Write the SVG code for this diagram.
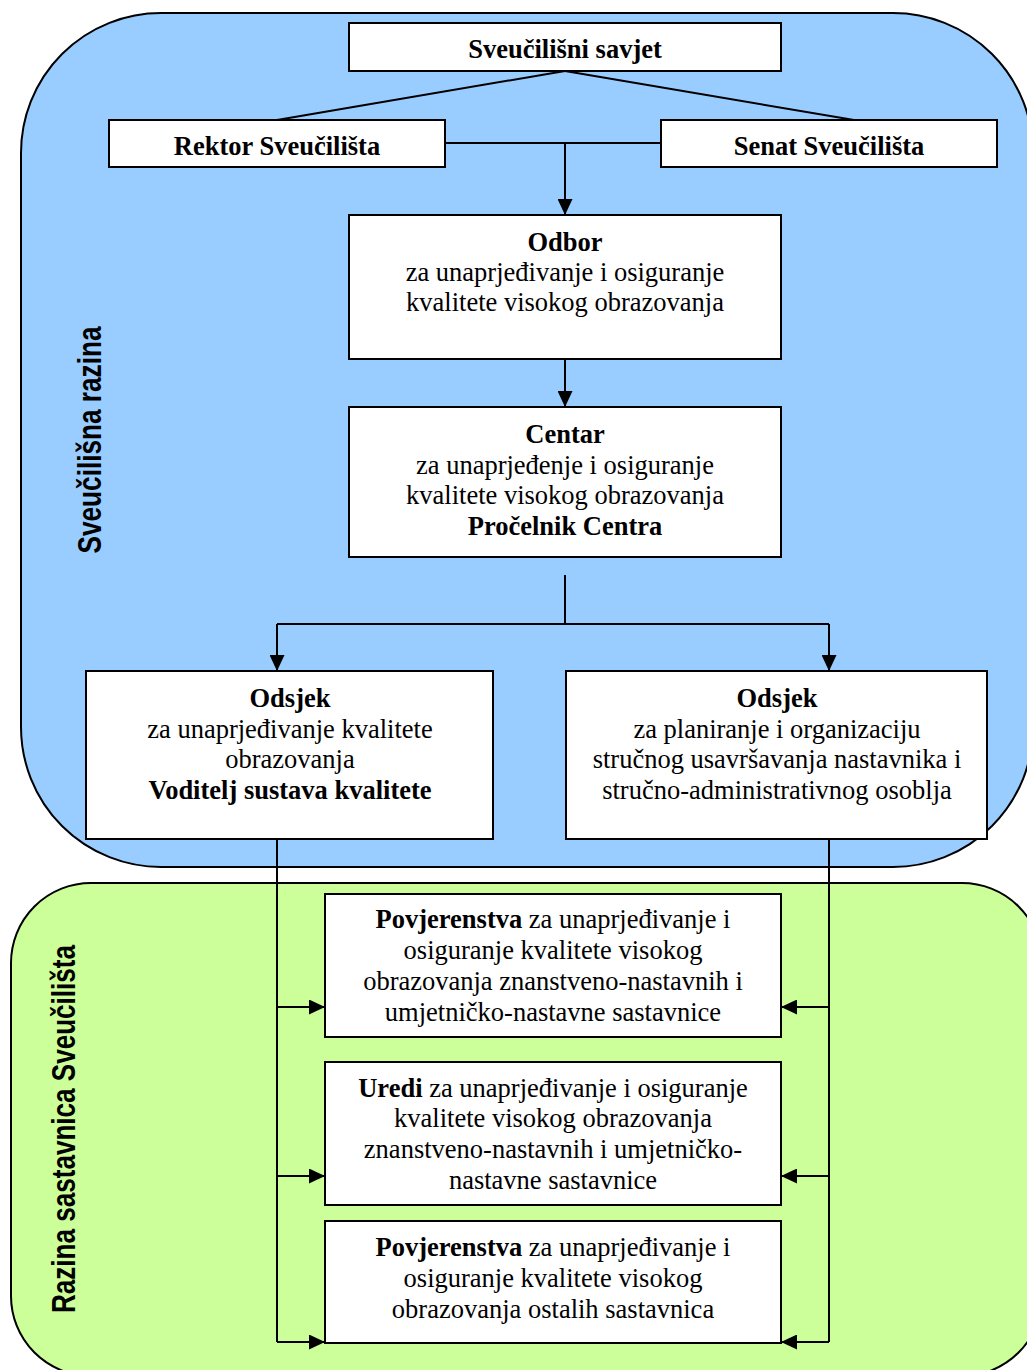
<svg xmlns="http://www.w3.org/2000/svg" width="1027" height="1370" viewBox="0 0 1027 1370">
<style>
.box{fill:#ffffff;stroke:#000000;stroke-width:2}
.t{font-family:"Liberation Serif","Times New Roman",serif;font-size:26.5px;fill:#000000;text-anchor:middle}
.b{font-weight:bold}
.lbl{font-family:"Liberation Sans",Arial,sans-serif;font-weight:bold;font-size:33px;fill:#000000;text-anchor:middle}
.c{fill:none;stroke:#000000;stroke-width:2}
.ca{fill:none;stroke:#000000;stroke-width:2;marker-end:url(#ah)}
</style>
<defs>
<marker id="ah" markerUnits="userSpaceOnUse" markerWidth="16" markerHeight="15" refX="16" refY="7.5" orient="auto" viewBox="0 0 16 15">
<path d="M0,0 L16,7.5 L0,15 Z" fill="#000000"/>
</marker>
</defs>
<rect width="1027" height="1370" fill="#ffffff"/>
<g id="zone-university">
<rect x="21" y="13" width="1012" height="854" rx="140" ry="140" fill="#99ccff" stroke="#000000" stroke-width="2"/>
<text class="lbl" transform="translate(101,440) rotate(-90)" textLength="227" lengthAdjust="spacingAndGlyphs">Sveučilišna razina</text>
</g>
<g id="zone-components">
<rect x="11" y="883" width="1031" height="493" rx="80" ry="80" fill="#ccff99" stroke="#000000" stroke-width="2"/>
<text class="lbl" transform="translate(75,1129) rotate(-90)" textLength="368" lengthAdjust="spacingAndGlyphs">Razina sastavnica Sveučilišta</text>
</g>
<g id="connectors">
<path class="c" d="M565,71 L277,120"/>
<path class="c" d="M565,71 L854,120"/>
<path class="c" d="M445,143 H661"/>
<path class="ca" d="M565,143 V215"/>
<path class="ca" d="M565,359 V407"/>
<path class="c" d="M565,575 V624"/>
<path class="c" d="M277,624 H829"/>
<path class="ca" d="M277,624 V671"/>
<path class="ca" d="M829,624 V671"/>
<path class="c" d="M277,839 V1342"/>
<path class="c" d="M829,839 V1342"/>
<path class="ca" d="M277,1007 H325"/>
<path class="ca" d="M277,1176 H325"/>
<path class="ca" d="M277,1342 H325"/>
<path class="ca" d="M829,1007 H781"/>
<path class="ca" d="M829,1176 H781"/>
<path class="ca" d="M829,1342 H781"/>
</g>
<g id="savjet">
<rect class="box" x="349" y="23" width="432" height="48"/>
<text class="t b" x="565" y="58">Sveučilišni savjet</text>
</g>
<g id="rektor">
<rect class="box" x="109" y="120" width="336" height="47"/>
<text class="t b" x="277" y="155">Rektor Sveučilišta</text>
</g>
<g id="senat">
<rect class="box" x="661" y="120" width="336" height="47"/>
<text class="t b" x="829" y="155">Senat Sveučilišta</text>
</g>
<g id="odbor">
<rect class="box" x="349" y="215" width="432" height="144"/>
<text class="t b" x="565" y="251">Odbor</text>
<text class="t" x="565" y="281">za unaprjeđivanje i osiguranje</text>
<text class="t" x="565" y="311">kvalitete visokog obrazovanja</text>
</g>
<g id="centar">
<rect class="box" x="349" y="407" width="432" height="150"/>
<text class="t b" x="565" y="443">Centar</text>
<text class="t" x="565" y="474">za unaprjeđenje i osiguranje</text>
<text class="t" x="565" y="504">kvalitete visokog obrazovanja</text>
<text class="t b" x="565" y="535">Pročelnik Centra</text>
</g>
<g id="odsjek-kvaliteta">
<rect class="box" x="86" y="671" width="407" height="168"/>
<text class="t b" x="290" y="707">Odsjek</text>
<text class="t" x="290" y="738">za unaprjeđivanje kvalitete</text>
<text class="t" x="290" y="768">obrazovanja</text>
<text class="t b" x="290" y="799">Voditelj sustava kvalitete</text>
</g>
<g id="odsjek-usavrsavanje">
<rect class="box" x="566" y="671" width="421" height="168"/>
<text class="t b" x="777" y="707">Odsjek</text>
<text class="t" x="777" y="738">za planiranje i organizaciju</text>
<text class="t" x="777" y="768">stručnog usavršavanja nastavnika i</text>
<text class="t" x="777" y="799">stručno-administrativnog osoblja</text>
</g>
<g id="povjerenstva-znanstveno">
<rect class="box" x="325" y="894" width="456" height="143"/>
<text class="t" x="553" y="928"><tspan class="b">Povjerenstva</tspan> za unaprjeđivanje i</text>
<text class="t" x="553" y="959">osiguranje kvalitete visokog</text>
<text class="t" x="553" y="990">obrazovanja znanstveno-nastavnih i</text>
<text class="t" x="553" y="1021">umjetničko-nastavne sastavnice</text>
</g>
<g id="uredi">
<rect class="box" x="325" y="1062" width="456" height="143"/>
<text class="t" x="553" y="1097"><tspan class="b">Uredi</tspan> za unaprjeđivanje i osiguranje</text>
<text class="t" x="553" y="1127">kvalitete visokog obrazovanja</text>
<text class="t" x="553" y="1158">znanstveno-nastavnih i umjetničko-</text>
<text class="t" x="553" y="1189">nastavne sastavnice</text>
</g>
<g id="povjerenstva-ostale">
<rect class="box" x="325" y="1221" width="456" height="122"/>
<text class="t" x="553" y="1256"><tspan class="b">Povjerenstva</tspan> za unaprjeđivanje i</text>
<text class="t" x="553" y="1287">osiguranje kvalitete visokog</text>
<text class="t" x="553" y="1318">obrazovanja ostalih sastavnica</text>
</g>
</svg>
